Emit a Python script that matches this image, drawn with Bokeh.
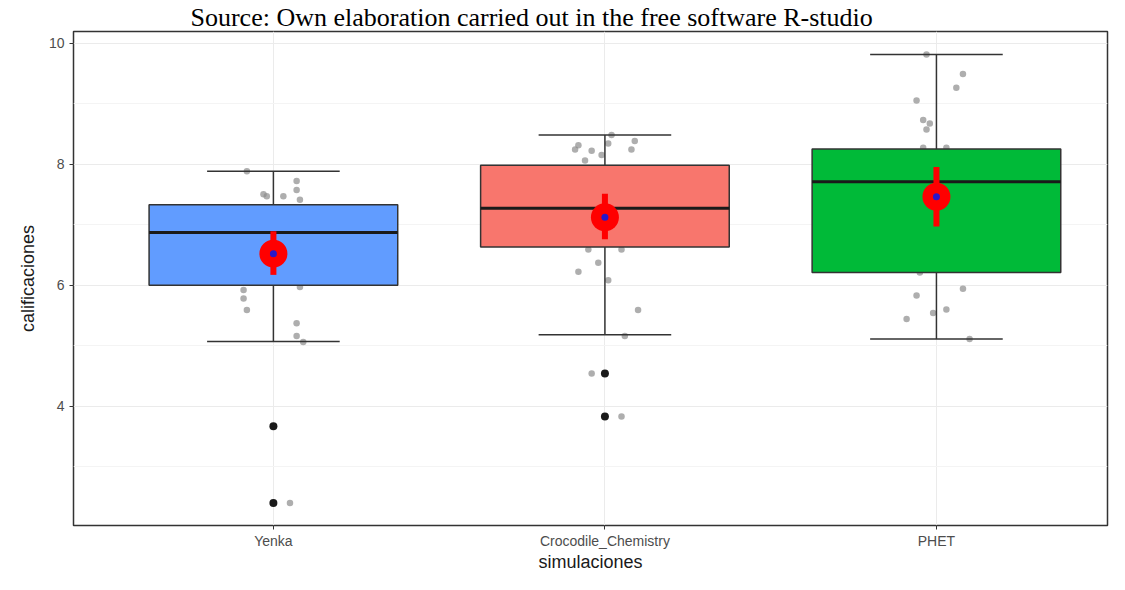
from bokeh.plotting import figure
from bokeh.models import FixedTicker, Range1d
from bokeh.embed import file_html
from bokeh.resources import INLINE

# ---- data ----
categories = ["Yenka", "Crocodile_Chemistry", "PHET"]
q1 = [6.00, 6.63, 6.21]
median = [6.87, 7.27, 7.71]
q3 = [7.33, 7.98, 8.25]
whisker_low = [5.07, 5.18, 5.11]
whisker_high = [7.88, 8.48, 9.81]
means = [6.52, 7.12, 7.46]
mean_low = [6.17, 6.76, 6.97]
mean_high = [6.89, 7.51, 7.95]

outlier_group = [0, 0, 1, 1]
outlier_values = [3.67, 2.40, 4.54, 3.83]

yenka_scores = [7.88, 7.72, 7.57, 7.50, 7.47, 7.47, 7.41, 5.97, 5.92, 5.78,
                5.59, 5.37, 5.16, 5.06, 2.40, 3.67]
yenka_jitter = [-0.08, 0.07, 0.07, -0.03, -0.02, 0.03, 0.08, 0.08, -0.09, -0.09,
                -0.08, 0.07, 0.07, 0.09, 0.05, 0.0]
croc_scores = [8.48, 8.38, 8.24, 8.24, 8.31, 8.22, 8.15, 8.34, 8.06, 6.59,
               6.59, 6.37, 6.22, 6.08, 5.59, 5.16, 4.54, 3.83]
croc_jitter = [0.02, 0.09, 0.08, -0.09, -0.08, -0.04, -0.01, 0.01, -0.06, -0.05,
               0.05, -0.02, -0.08, 0.01, 0.10, 0.06, -0.04, 0.05]
phet_scores = [9.81, 9.49, 9.26, 9.05, 8.73, 8.67, 8.57, 8.27, 8.27, 6.21,
               5.94, 5.83, 5.60, 5.54, 5.44, 5.11]
phet_jitter = [-0.03, 0.08, 0.06, -0.06, -0.04, -0.02, -0.03, -0.04, 0.03, -0.05,
               0.08, -0.06, 0.03, -0.01, -0.09, 0.10]

# ---- styles ----
box_colors = ["#619CFF", "#F8766D", "#00BA38"]
FONT = "Liberation Sans"

pos = [i + 1 for i in range(len(categories))]

p = figure(width=1109, height=574, output_backend="svg", toolbar_location=None,
           x_range=Range1d(0.397, 3.516), y_range=Range1d(2.03, 10.19),
           min_border_left=73, min_border_right=2, min_border_bottom=46,
           min_border_top=0)

p.title.text = "Source: Own elaboration carried out in the free software R-studio"
p.title.text_font = "Liberation Serif"
p.title.text_font_size = "26px"
p.title.text_font_style = "normal"
p.title.align = "left"
p.title.offset = 117
p.title.text_color = "black"
p.title.standoff = 0

p.background_fill_color = "white"
p.border_fill_color = "white"
p.outline_line_color = "#333333"
p.outline_line_width = 1.5

# grid
p.xgrid.ticker = FixedTicker(ticks=pos)
p.xgrid.grid_line_color = "#EBEBEB"
p.ygrid.ticker = FixedTicker(ticks=[4, 6, 8, 10], minor_ticks=[3, 5, 7, 9])
p.ygrid.grid_line_color = "#EBEBEB"
p.ygrid.minor_grid_line_color = "#F4F4F4"

# axes
p.xaxis.ticker = FixedTicker(ticks=pos)
p.xaxis.major_label_overrides = {v: c for v, c in zip(pos, categories)}
p.yaxis.ticker = FixedTicker(ticks=[4, 6, 8, 10], minor_ticks=[3, 5, 7, 9])
p.xaxis.axis_label = "simulaciones"
p.yaxis.axis_label = "calificaciones"
for ax in (p.xaxis, p.yaxis):
    ax.axis_line_color = None
    ax.major_tick_line_color = "#333333"
    ax.major_tick_in = 0
    ax.major_tick_out = 4
    ax.minor_tick_line_color = None
    ax.major_label_text_font = FONT
    ax.major_label_text_font_size = "14px"
    ax.major_label_text_color = "#4D4D4D"
    ax.axis_label_text_font = FONT
    ax.axis_label_text_font_size = "18px"
    ax.axis_label_text_font_style = "normal"
    ax.axis_label_text_color = "#1A1A1A"
p.xaxis.major_label_standoff = 3
p.xaxis.axis_label_standoff = 0
p.yaxis.major_label_standoff = 5
p.yaxis.axis_label_standoff = 8

# jittered raw points
for g, (scores, jit) in enumerate([(yenka_scores, yenka_jitter),
                                   (croc_scores, croc_jitter),
                                   (phet_scores, phet_jitter)]):
    xs = [pos[g] + j for j in jit]
    p.scatter(xs, scores, size=6.5, fill_color="#8C8C8C", line_color=None, fill_alpha=0.7)

# whiskers
p.segment(x0=pos, x1=pos, y0=q3, y1=whisker_high, line_color="#333333", line_width=1.5)
p.segment(x0=pos, x1=pos, y0=whisker_low, y1=q1, line_color="#333333", line_width=1.5)
cap_half = 0.2
p.segment(x0=[x - cap_half for x in pos], x1=[x + cap_half for x in pos],
          y0=whisker_high, y1=whisker_high, line_color="#333333", line_width=1.5)
p.segment(x0=[x - cap_half for x in pos], x1=[x + cap_half for x in pos],
          y0=whisker_low, y1=whisker_low, line_color="#333333", line_width=1.5)

# boxes
p.vbar(x=pos, width=0.75, bottom=q1, top=q3, fill_color=box_colors,
       line_color="#333333", line_width=1.5)
half = 0.375
p.segment(x0=[x - half for x in pos], x1=[x + half for x in pos],
          y0=median, y1=median, line_color="#1A1A1A", line_width=3)

# outliers
p.scatter([pos[g] for g in outlier_group], outlier_values, size=8,
          fill_color="#1A1A1A", line_color=None)

# mean +/- error
p.segment(x0=pos, x1=pos, y0=mean_low, y1=mean_high, line_color="#FF0000", line_width=6)
p.scatter(pos, means, size=28, fill_color="#FF0000", line_color=None)
p.scatter(pos, means, size=7, fill_color="#2A17C9", line_color=None)

open("out.html", "w").write(file_html(p, INLINE))
